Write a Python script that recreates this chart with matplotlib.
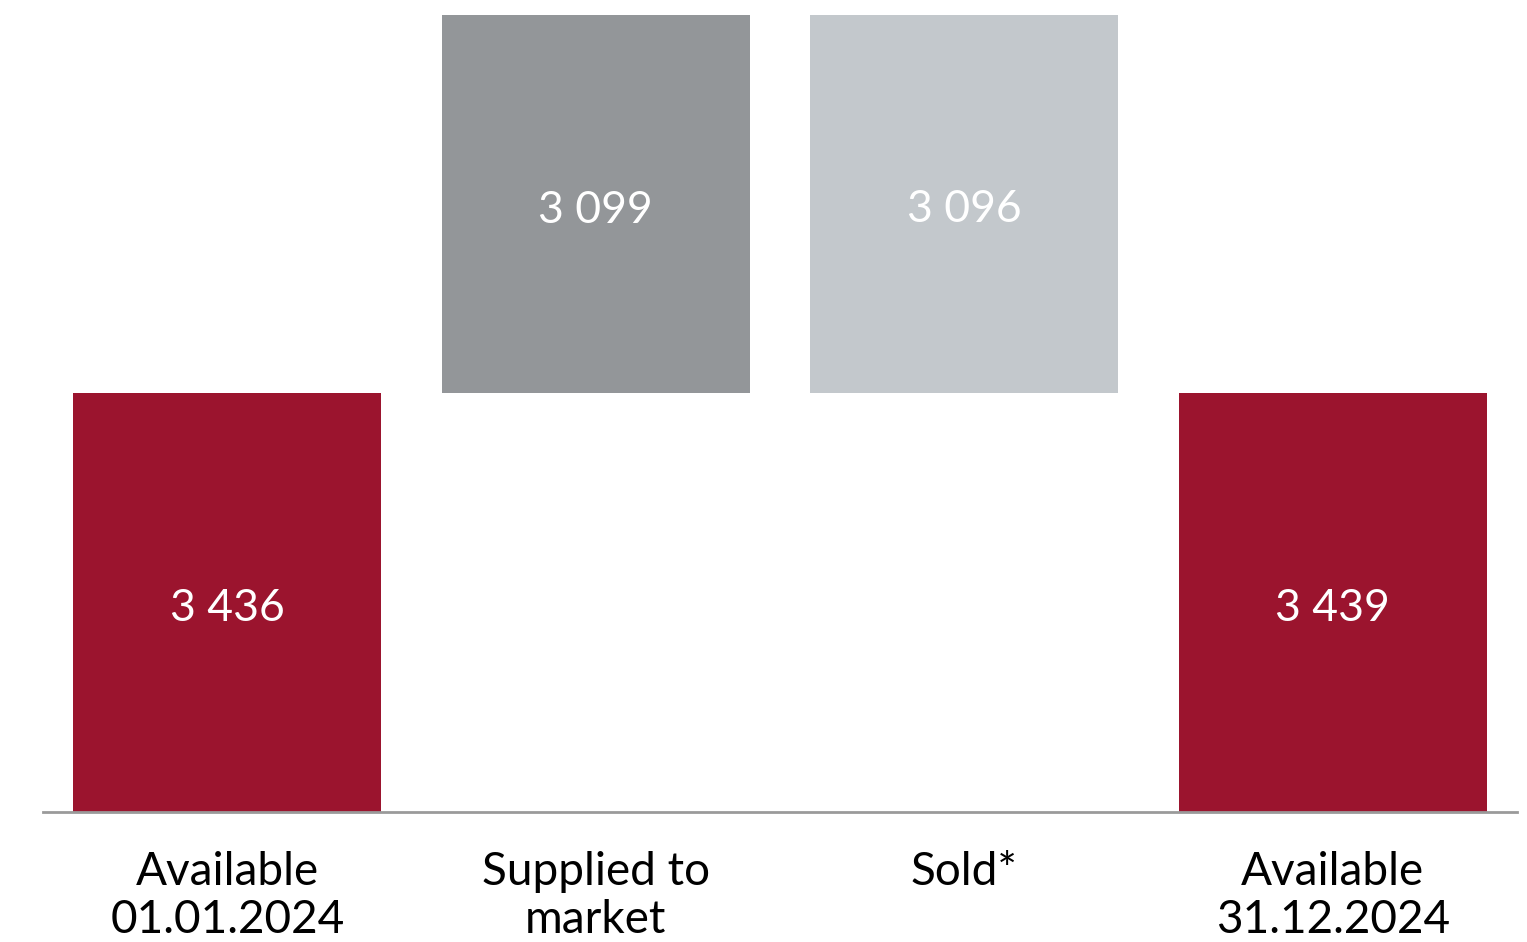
import matplotlib.pyplot as plt

categories = ["Available\n01.01.2024", "Supplied to\nmarket", "Sold*", "Available\n31.12.2024"]
values = [3436, 3099, -3096, 3439]
kinds = ["total", "delta", "delta", "total"]
colors = ["#9B142E", "#939699", "#C3C8CC", "#9B142E"]

# waterfall bottoms/heights
bottoms = []
heights = []
running = 0
for v, k in zip(values, kinds):
    if k == "total":
        bottoms.append(0)
        heights.append(v)
        running = v
    else:
        if v >= 0:
            bottoms.append(running)
            heights.append(v)
        else:
            bottoms.append(running + v)
            heights.append(-v)
        running += v

plt.rcParams["font.family"] = ["Lato", "DejaVu Sans"]

fig = plt.figure(figsize=(15.27, 9.42), dpi=100)
ax = fig.add_axes([43 / 1527, 130 / 942, 1474 / 1527, 812 / 942])

x = list(range(len(categories)))
ax.bar(x, heights, bottom=bottoms, width=0.836, color=colors, linewidth=0)

for xi, b, h, v in zip(x, bottoms, heights, values):
    label = f"{abs(v):,}".replace(",", " ")
    ax.text(xi, b + h / 2 - 50, label, ha="center", va="center",
            color="white", fontsize=32)

ax.set_xlim(-0.5, 3.5)
ax.set_ylim(0, 6659)
ax.set_yticks([])
ax.set_xticks(x)
ax.set_xticklabels(categories, fontsize=33, linespacing=1.18, color="black")
ax.tick_params(axis="x", length=0, pad=28)
for side in ["top", "right", "left"]:
    ax.spines[side].set_visible(False)
ax.spines["bottom"].set_color("#9A9A9A")
ax.spines["bottom"].set_linewidth(2)

plt.savefig("out.png", dpi=100)
